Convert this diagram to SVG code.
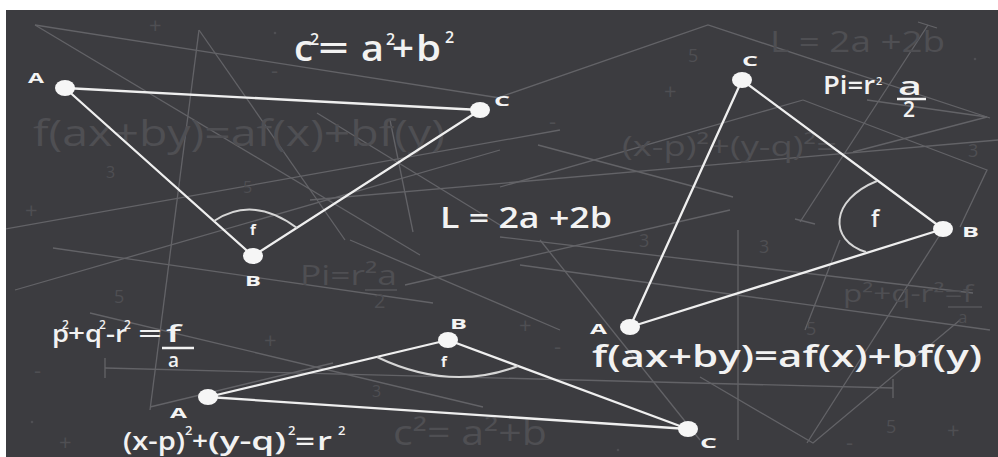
<svg xmlns="http://www.w3.org/2000/svg" width="998" height="457" viewBox="0 0 998 457">
<defs>
<clipPath id="board"><rect x="6" y="10" width="992" height="447"/></clipPath>
</defs>
<style>
.faintl{stroke:#636367;stroke-width:1.3;fill:none}
.ft{fill:#4f4f53;font-family:"Open Sans","DejaVu Sans",sans-serif}
.edge{stroke:#efefef;stroke-width:2.3;fill:none;stroke-linecap:round}
.arc{stroke:#d6d6d6;stroke-width:2;fill:none}
.node{fill:#f6f6f6}
.lbl{fill:#f4f4f4;font-family:"Open Sans","DejaVu Sans",sans-serif;font-weight:bold;font-size:15px}
.mt{fill:#f2f2f2;font-family:"Open Sans","DejaVu Sans",sans-serif;font-weight:600}
.bar{stroke:#f2f2f2;stroke-width:2.5}
</style>
<rect x="0" y="0" width="998" height="457" fill="#ffffff"/>
<rect x="6" y="10" width="992" height="447" fill="#3c3c40"/>

<g id="background" clip-path="url(#board)">
  <line class="faintl" x1="35" y1="25" x2="500" y2="98"/>
  <line class="faintl" x1="35" y1="25" x2="420" y2="255"/>
  <line class="faintl" x1="199" y1="30" x2="150" y2="410"/>
  <line class="faintl" x1="199" y1="30" x2="345" y2="240"/>
  <polyline class="faintl" points="500,97 708,25 990,118"/>
  <line class="faintl" x1="15" y1="290" x2="500" y2="150"/>
  <line class="faintl" x1="53" y1="248" x2="433" y2="303"/>
  <line class="faintl" x1="150" y1="407" x2="333" y2="363"/>
  <line class="faintl" x1="90" y1="313" x2="483" y2="407"/>
  <line class="faintl" x1="0" y1="230" x2="560" y2="130"/>
  <line class="faintl" x1="317" y1="113" x2="500" y2="225"/>
  <line class="faintl" x1="390" y1="120" x2="413" y2="232"/>
  <line class="faintl" x1="310" y1="200" x2="998" y2="140"/>
  <line class="faintl" x1="928" y1="25" x2="800" y2="222"/>
  <line class="faintl" x1="918" y1="22" x2="937" y2="28"/>
  <line class="faintl" x1="795" y1="219" x2="815" y2="224"/>
  <line class="faintl" x1="943" y1="230" x2="807" y2="443"/>
  <line class="faintl" x1="105" y1="368" x2="893" y2="388"/>
  <line class="faintl" x1="105" y1="358" x2="105" y2="378"/>
  <line class="faintl" x1="893" y1="379" x2="893" y2="398"/>
  <polyline class="faintl" points="867,100 987,117 853,152"/>
  <line class="faintl" x1="538" y1="145" x2="733" y2="197"/>
  <line class="faintl" x1="500" y1="187" x2="803" y2="100"/>
  <polyline class="faintl" points="803,100 987,170 960,227"/>
  <line class="faintl" x1="738" y1="230" x2="738" y2="440"/>
  <line class="faintl" x1="500" y1="237" x2="973" y2="293"/>
  <polyline class="faintl" points="700,377 813,443 960,320"/>
  <line class="faintl" x1="520" y1="265" x2="990" y2="330"/>
  <line class="faintl" x1="540" y1="240" x2="700" y2="440"/>
  <line class="faintl" x1="405" y1="285" x2="730" y2="210"/>
  <line class="faintl" x1="840" y1="240" x2="805" y2="330"/>
  <line class="faintl" x1="350" y1="240" x2="560" y2="330"/>

  <text class="ft" x="33" y="146" font-size="36" textLength="412" lengthAdjust="spacingAndGlyphs">f(ax+by)=af(x)+bf(y)</text>
  <text class="ft" x="770" y="52" font-size="30" textLength="175" lengthAdjust="spacingAndGlyphs">L = 2a +2b</text>
  <text class="ft" x="622" y="156" font-size="28" textLength="215" lengthAdjust="spacingAndGlyphs">(x-p)²+(y-q)²=</text>
  <text class="ft" x="300" y="285" font-size="28" textLength="97" lengthAdjust="spacingAndGlyphs">Pi=r²a</text>
  <line x1="365" y1="290" x2="397" y2="290" stroke="#4f4f53" stroke-width="2"/>
  <text class="ft" x="374" y="308" font-size="20">2</text>
  <text class="ft" x="843" y="302" font-size="24" textLength="130" lengthAdjust="spacingAndGlyphs">p²+q-r²=f</text>
  <line x1="948" y1="307" x2="982" y2="307" stroke="#4f4f53" stroke-width="2"/>
  <text class="ft" x="958" y="323" font-size="17">a</text>
  <text class="ft" x="393" y="445" font-size="34" textLength="154" lengthAdjust="spacingAndGlyphs">c²= a²+b</text>
  <g font-size="16">
    <text class="ft" x="106" y="178">3</text>
    <text class="ft" x="243" y="193">5</text>
    <text class="ft" x="688" y="62" font-size="18">5</text>
    <text class="ft" x="968" y="157" font-size="18">3</text>
    <text class="ft" x="114" y="303" font-size="18">5</text>
    <text class="ft" x="372" y="397">3</text>
    <text class="ft" x="639" y="247" font-size="18">3</text>
    <text class="ft" x="759" y="253" font-size="18">3</text>
    <text class="ft" x="806" y="335" font-size="18">5</text>
    <text class="ft" x="886" y="433" font-size="18">5</text>
  </g>
  <g font-size="22">
    <text class="ft" x="149" y="33">+</text>
    <text class="ft" x="25" y="218">+</text>
    <text class="ft" x="664" y="99">+</text>
    <text class="ft" x="264" y="348">+</text>
    <text class="ft" x="519" y="333">+</text>
    <text class="ft" x="947" y="438">+</text>
    <text class="ft" x="59" y="450">+</text>
    <text class="ft" x="271" y="78">-</text>
    <text class="ft" x="549" y="129">-</text>
    <text class="ft" x="34" y="378">-</text>
    <text class="ft" x="554" y="354">-</text>
    <text class="ft" x="846" y="450">-</text>
  </g>
  <circle cx="275" cy="33" r="1.3" fill="#4f4f53"/>
  <circle cx="975" cy="59" r="1.3" fill="#4f4f53"/>
  <circle cx="32" cy="422" r="1.3" fill="#4f4f53"/>
  <circle cx="618" cy="450" r="1.3" fill="#4f4f53"/>
</g>

<g id="connectors">
  <line class="edge" x1="65" y1="88" x2="480" y2="110"/>
  <line class="edge" x1="65" y1="88" x2="253" y2="256"/>
  <line class="edge" x1="253" y1="256" x2="480" y2="110"/>
  <path class="arc" d="M214,221 Q253,195 297,228"/>
  <line class="edge" x1="742" y1="80" x2="943" y2="229"/>
  <line class="edge" x1="742" y1="80" x2="630" y2="327"/>
  <line class="edge" x1="630" y1="327" x2="943" y2="229"/>
  <path class="arc" d="M877,181 C830,200 828,240 866,252"/>
  <line class="edge" x1="208" y1="397" x2="448" y2="340"/>
  <line class="edge" x1="448" y1="340" x2="688" y2="429"/>
  <line class="edge" x1="208" y1="397" x2="688" y2="429"/>
  <path class="arc" d="M377,357 Q450,392 518,366"/>
</g>

<g id="tri1-A"><ellipse class="node" cx="65" cy="88" rx="10" ry="8"/><text class="lbl" x="28" y="83" textLength="16" lengthAdjust="spacingAndGlyphs">A</text></g>
<g id="tri1-C"><ellipse class="node" cx="480" cy="110" rx="10" ry="8"/><text class="lbl" x="494" y="106" textLength="16" lengthAdjust="spacingAndGlyphs">C</text></g>
<g id="tri1-B"><ellipse class="node" cx="253" cy="256" rx="10" ry="8"/><text class="lbl" x="245" y="286" textLength="16" lengthAdjust="spacingAndGlyphs">B</text></g>
<g id="tri1-f"><text class="lbl" x="250" y="235" font-size="13">f</text></g>

<g id="tri2-C"><ellipse class="node" cx="742" cy="80" rx="10" ry="8"/><text class="lbl" x="742" y="66" textLength="16" lengthAdjust="spacingAndGlyphs">C</text></g>
<g id="tri2-B"><ellipse class="node" cx="943" cy="229" rx="10" ry="8"/><text class="lbl" x="962" y="237" textLength="17" lengthAdjust="spacingAndGlyphs">B</text></g>
<g id="tri2-A"><ellipse class="node" cx="630" cy="327" rx="10" ry="8"/><text class="lbl" x="590" y="334" textLength="17" lengthAdjust="spacingAndGlyphs">A</text></g>
<g id="tri2-f"><text class="mt" x="871" y="227" font-size="23">f</text></g>

<g id="tri3-B"><ellipse class="node" cx="448" cy="340" rx="10" ry="8"/><text class="lbl" x="450" y="329" textLength="17" lengthAdjust="spacingAndGlyphs">B</text></g>
<g id="tri3-A"><ellipse class="node" cx="208" cy="397" rx="10" ry="8"/><text class="lbl" x="170" y="418" textLength="17" lengthAdjust="spacingAndGlyphs">A</text></g>
<g id="tri3-C"><ellipse class="node" cx="688" cy="429" rx="10" ry="8"/><text class="lbl" x="700" y="448" textLength="17" lengthAdjust="spacingAndGlyphs">C</text></g>
<g id="tri3-f"><text class="lbl" x="441" y="367" font-size="14">f</text></g>

<g id="formula-pythagoras" class="mt" font-size="36">
  <text x="294" y="61" textLength="19" lengthAdjust="spacingAndGlyphs">c</text>
  <text x="310" y="45" font-size="16">2</text>
  <text x="318" y="61" textLength="31" lengthAdjust="spacingAndGlyphs">=</text>
  <text x="361" y="61" textLength="23" lengthAdjust="spacingAndGlyphs">a</text>
  <text x="386" y="45" font-size="16">2</text>
  <text x="392" y="61" textLength="22" lengthAdjust="spacingAndGlyphs">+</text>
  <text x="416" y="61" textLength="25" lengthAdjust="spacingAndGlyphs">b</text>
  <text x="445" y="43" font-size="16">2</text>
</g>

<g id="formula-L" class="mt"><text x="440" y="228" font-size="29" textLength="172" lengthAdjust="spacingAndGlyphs">L = 2a +2b</text></g>

<g id="formula-Pi" class="mt" font-size="25">
  <text x="823" y="94" textLength="52" lengthAdjust="spacingAndGlyphs">Pi=r</text>
  <text x="876" y="85" font-size="11">2</text>
  <text x="898" y="95" textLength="24" lengthAdjust="spacingAndGlyphs">a</text>
  <line class="bar" x1="897" y1="99" x2="926" y2="99"/>
  <text x="903" y="117" font-size="21">2</text>
</g>

<g id="formula-linear" class="mt"><text x="592" y="367" font-size="30" textLength="390" lengthAdjust="spacingAndGlyphs">f(ax+by)=af(x)+bf(y)</text></g>

<g id="formula-pq" class="mt" font-size="24">
  <text x="52" y="342" textLength="17" lengthAdjust="spacingAndGlyphs">p</text>
  <text x="62" y="329" font-size="12">2</text>
  <text x="68" y="342" textLength="17" lengthAdjust="spacingAndGlyphs">+</text>
  <text x="85" y="342" textLength="17" lengthAdjust="spacingAndGlyphs">q</text>
  <text x="99" y="329" font-size="12">2</text>
  <text x="106" y="342" textLength="9" lengthAdjust="spacingAndGlyphs">-</text>
  <text x="115" y="342" textLength="12" lengthAdjust="spacingAndGlyphs">r</text>
  <text x="124" y="329" font-size="12">2</text>
  <text x="138" y="342" textLength="24" lengthAdjust="spacingAndGlyphs">=</text>
  <text x="166" y="342" textLength="15" lengthAdjust="spacingAndGlyphs">f</text>
  <line class="bar" x1="162" y1="348" x2="194" y2="348"/>
  <text x="168" y="367" font-size="19">a</text>
</g>

<g id="formula-circle" class="mt" font-size="26">
  <text x="123" y="450" textLength="62" lengthAdjust="spacingAndGlyphs">(x-p)</text>
  <text x="185" y="435" font-size="13">2</text>
  <text x="192" y="450" textLength="16" lengthAdjust="spacingAndGlyphs">+</text>
  <text x="208" y="450" textLength="78" lengthAdjust="spacingAndGlyphs">(y-q)</text>
  <text x="288" y="435" font-size="13">2</text>
  <text x="295" y="450" textLength="20" lengthAdjust="spacingAndGlyphs">=</text>
  <text x="317" y="450" textLength="15" lengthAdjust="spacingAndGlyphs">r</text>
  <text x="338" y="435" font-size="13">2</text>
</g>
</svg>
